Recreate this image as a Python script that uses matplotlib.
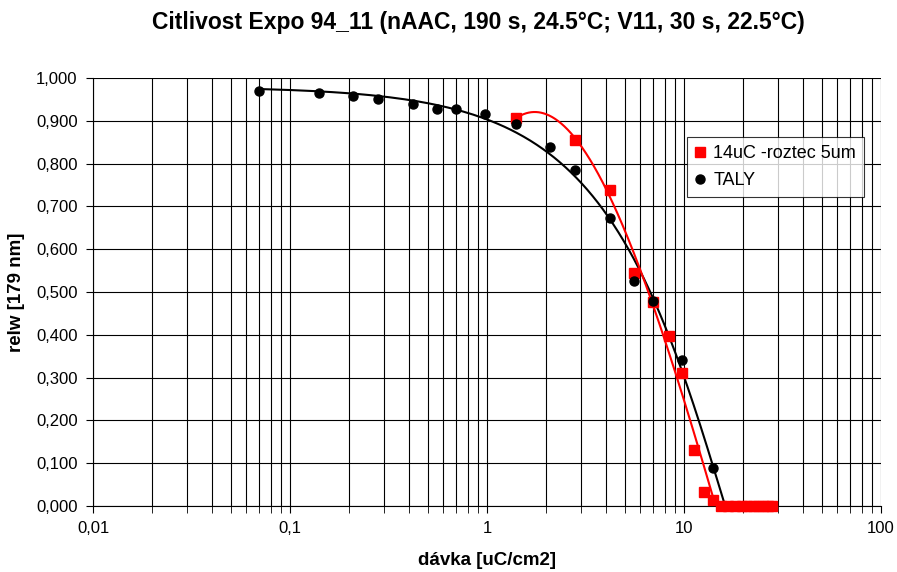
import numpy as np
import matplotlib.pyplot as plt
from matplotlib.ticker import FuncFormatter, LogLocator, NullFormatter

plt.rcParams['font.family'] = ['Liberation Sans', 'DejaVu Sans']

# TALY measurements
taly_dose = [0.07, 0.14, 0.21, 0.28, 0.42, 0.56, 0.70, 0.98, 1.4, 2.1, 2.8,
             4.2, 5.6, 7.0, 9.8, 14.0]
taly_relw = [0.970, 0.965, 0.958, 0.951, 0.939, 0.928, 0.928, 0.916, 0.893,
             0.839, 0.785, 0.673, 0.526, 0.479, 0.341, 0.089]

# 14uC, 5um pitch
roz_dose = [1.4, 2.8, 4.2, 5.6, 7.0, 8.4, 9.8, 11.2, 12.6, 14.0, 15.4,
            16.8, 18.2, 19.6, 21.0, 22.4, 23.8, 25.2, 26.6, 28.0]
roz_relw = [0.907, 0.855, 0.738, 0.544, 0.477, 0.397, 0.311, 0.131, 0.033,
            0.014, 0.0, 0.0, 0.0, 0.0, 0.0, 0.0, 0.0, 0.0, 0.0, 0.0]


def cut_at_zero(xs, ys):
    # stop the trend line where it first drops below zero
    neg = np.where(ys < 0)[0]
    if len(neg):
        i = neg[0]
        x0 = xs[i - 1] + (xs[i] - xs[i - 1]) * ys[i - 1] / (ys[i - 1] - ys[i])
        xs = np.append(xs[:i], x0)
        ys = np.append(ys[:i], 0.0)
    return xs, ys


# TALY trend: cubic in dose
tx = np.linspace(taly_dose[0], 25, 800)
ty = np.polyval(np.polyfit(taly_dose, taly_relw, 3), tx)
tx, ty = cut_at_zero(tx, ty)

# roztec trend: cubic in log(dose), fitted down to the first zero
n = roz_relw.index(0.0) + 1
rx = np.logspace(np.log10(roz_dose[0]), np.log10(25), 800)
ry = np.polyval(np.polyfit(np.log10(roz_dose[:n]), roz_relw[:n], 3), np.log10(rx))
rx, ry = cut_at_zero(rx, ry)

fig = plt.figure(figsize=(8.97, 5.72), dpi=100)
ax = fig.add_axes([93 / 897, 1 - 506 / 572, 788 / 897, 428 / 572])

ax.plot(tx, ty, color='black', lw=1.5, zorder=3)
ax.plot(rx, ry, color='red', lw=1.5, zorder=3)

ax.plot(roz_dose, roz_relw, 's', color='red', ms=7, label='14uC -roztec 5um',
        zorder=4, clip_on=False)
ax.plot(taly_dose, taly_relw, 'o', color='black', ms=6.5, label='TALY',
        zorder=5, clip_on=False)

ax.set_xscale('log')
ax.set_xlim(0.01, 100)
ax.set_ylim(0, 1)
ax.set_yticks(np.arange(0, 1.01, 0.1))
ax.yaxis.set_major_formatter(FuncFormatter(lambda v, p: f'{v:.3f}'.replace('.', ',')))
ax.xaxis.set_major_formatter(FuncFormatter(lambda v, p: f'{v:g}'.replace('.', ',')))
ax.xaxis.set_minor_locator(LogLocator(base=10, subs=np.arange(2, 10)))
ax.xaxis.set_minor_formatter(NullFormatter())

ax.grid(True, which='both', axis='x', color='black', lw=0.8)
ax.grid(True, which='major', axis='y', color='black', lw=0.8)
ax.tick_params(axis='both', which='both', direction='out', color='black', labelsize=12)
ax.tick_params(axis='both', which='major', length=5, pad=6)
ax.tick_params(axis='x', which='minor', length=5)
for s in ['top', 'right']:
    ax.spines[s].set_visible(False)

ax.set_xlabel('dávka [uC/cm2]', fontsize=13.5, fontweight='bold', labelpad=11)
ax.set_ylabel('relw [179 nm]', fontsize=13.5, fontweight='bold', labelpad=8)
fig.text(0.533, 1 - 22 / 572,
         'Citlivost Expo 94_11 (nAAC, 190 s, 24.5°C; V11, 30 s, 22.5°C)',
         fontsize=16.5, fontweight='bold', ha='center', va='center')

leg = ax.legend(loc='upper left', bbox_to_anchor=(594 / 788, 1 - 59 / 428),
                fontsize=13, frameon=True, fancybox=False, edgecolor='black',
                handlelength=0.5, handletextpad=0.5, borderpad=0.45,
                labelspacing=0.55, borderaxespad=0)
leg.get_frame().set_linewidth(0.8)

fig.savefig('out.png', dpi=100)
